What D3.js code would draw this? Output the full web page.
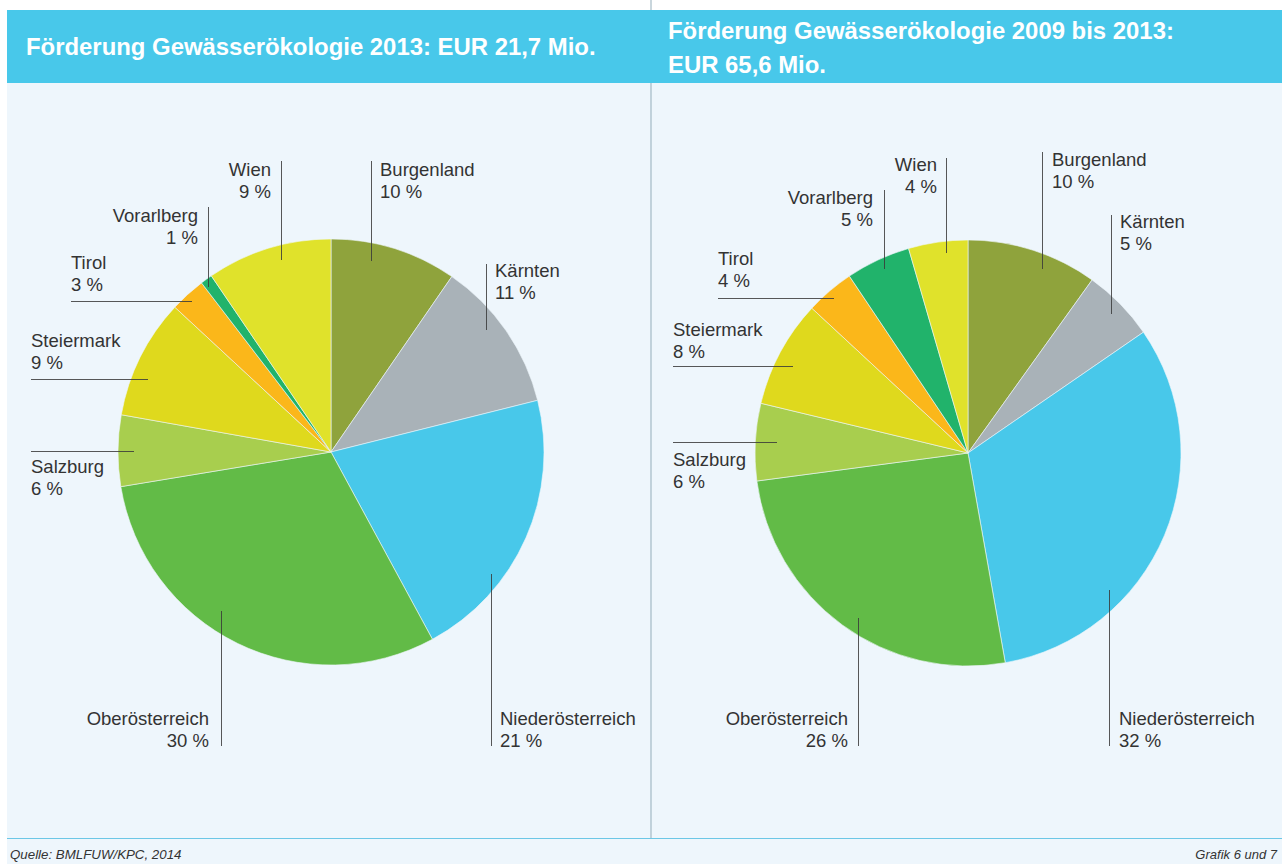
<!DOCTYPE html>
<html><head><meta charset="utf-8">
<script src="https://cdn.jsdelivr.net/npm/d3@7"></script>
<style>
body{margin:0;background:#fff}
svg{display:block}
text{font-family:"Liberation Sans",Arial,Helvetica,sans-serif}
</style>
</head><body>
<svg id="c" width="1282" height="864"></svg>
<script>
// ---- data ----
const categories = ["Burgenland","Kärnten","Niederösterreich","Oberösterreich","Salzburg","Steiermark","Tirol","Vorarlberg","Wien"];
const shares2013 = [9.6, 11.5, 21.0, 30.3, 5.4, 9.1, 2.7, 0.9, 9.5];
const labels2013 = ["10 %","11 %","21 %","30 %","6 %","9 %","3 %","1 %","9 %"];
const shares2009to2013 = [9.9, 5.5, 31.8, 25.7, 5.85, 8.15, 3.7, 4.9, 4.5];
const labels2009to2013 = ["10 %","5 %","32 %","26 %","6 %","8 %","4 %","5 %","4 %"];
const titleLeft = ["Förderung Gewässerökologie 2013: EUR 21,7 Mio."];
const titleRight = ["Förderung Gewässerökologie 2009 bis 2013:", "EUR 65,6 Mio."];
const sourceText = "Quelle: BMLFUW/KPC, 2014";
const noteText = "Grafik 6 und 7";

// ---- styles / layout ----
const sliceColors = ["#8fa33c","#a9b2b8","#48c8ea","#62bb47","#a8ce4e","#dfd91d","#fbb71a","#21b36b","#e0e22b"];
const color = d3.scaleOrdinal(categories, sliceColors);
const R = 213;
const lineH = 21.5;

// label layout: leader line [x1,y1,x2,y2], text x, first baseline y, anchor
const layoutLeft = {
  "Burgenland":      {l:[371,161,371,261], x:380, y:176, a:"start"},
  "Kärnten":         {l:[486,264,486,330], x:495, y:277, a:"start"},
  "Niederösterreich":{l:[491,574,491,746], x:500, y:725, a:"start"},
  "Oberösterreich":  {l:[221,611,221,746], x:209, y:725, a:"end"},
  "Salzburg":        {l:[31,451,134,451],  x:31,  y:473, a:"start"},
  "Steiermark":      {l:[31,379,148,379],  x:31,  y:347, a:"start"},
  "Tirol":           {l:[71,301,192,301],  x:71,  y:269, a:"start"},
  "Vorarlberg":      {l:[208,207,208,287], x:198, y:222, a:"end"},
  "Wien":            {l:[281,161,281,260], x:271, y:176, a:"end"}
};
const layoutRight = {
  "Burgenland":      {l:[1042,152,1042,269], x:1052, y:166, a:"start"},
  "Kärnten":         {l:[1111,215,1111,314], x:1120, y:228, a:"start"},
  "Niederösterreich":{l:[1109,590,1109,746], x:1119, y:725, a:"start"},
  "Oberösterreich":  {l:[858,618,858,746],   x:848,  y:725, a:"end"},
  "Salzburg":        {l:[673,442,777,442],   x:673,  y:466, a:"start"},
  "Steiermark":      {l:[673,366,793,366],   x:673,  y:336, a:"start"},
  "Tirol":           {l:[718,298,834,298],   x:718,  y:265, a:"start"},
  "Vorarlberg":      {l:[884,190,884,269],   x:873,  y:204, a:"end"},
  "Wien":            {l:[946,158,946,253],   x:937,  y:171, a:"end"}
};

const svg = d3.select("#c");

// background panels
svg.append("rect").attr("x",7).attr("y",83).attr("width",1275).attr("height",781).attr("fill","#eef6fc");
svg.append("line").attr("x1",651).attr("x2",651).attr("y1",0).attr("y2",838).attr("stroke","#93adba").attr("stroke-width",1);
svg.append("rect").attr("x",7).attr("y",10).attr("width",1275).attr("height",73).attr("fill","#48c8ea");
svg.append("line").attr("x1",7).attr("x2",1282).attr("y1",838.5).attr("y2",838.5).attr("stroke","#6cc7e6").attr("stroke-width",1);

// titles
function title(lines, x, y0, dy){
  const t = svg.append("text").attr("x",x).attr("y",y0).attr("fill","#fff")
    .attr("font-size",23.9).attr("font-weight","bold");
  lines.forEach((s,i)=>t.append("tspan").attr("x",x).attr("y",y0+i*dy).text(s));
}
title(titleLeft, 26, 55, 34);
title(titleRight, 668, 39, 34);

// footer
svg.append("text").attr("x",10).attr("y",859).attr("font-size",13.3).attr("font-style","italic").attr("fill","#333").text(sourceText);
svg.append("text").attr("x",1277).attr("y",859).attr("text-anchor","end").attr("font-size",13).attr("font-style","italic").attr("fill","#333").text(noteText);

const pie = d3.pie().sort(null).value(d=>d.v);
const arc = d3.arc().innerRadius(0).outerRadius(R);

function drawPie(cx, cy, shares, labels, layout){
  const data = categories.map((c,i)=>({c, v:shares[i], lab:labels[i]}));
  const g = svg.append("g").attr("transform",`translate(${cx},${cy})`);
  g.selectAll("path").data(pie(data)).join("path")
    .attr("d",arc).attr("fill",d=>color(d.data.c))
    .attr("stroke","#eef6fc").attr("stroke-width",0.6);
  const lg = svg.append("g");
  data.forEach(d=>{
    const L = layout[d.c];
    const vx = L.l[0]===L.l[2] ? 0.5 : 0, hy = L.l[1]===L.l[3] ? 0.5 : 0;
    lg.append("line").attr("x1",L.l[0]+vx).attr("y1",L.l[1]+hy)
      .attr("x2",L.l[2]+vx).attr("y2",L.l[3]+hy)
      .attr("stroke","#3a3a3a").attr("stroke-opacity",0.85).attr("stroke-width",1);
    const t = lg.append("text").attr("font-size",18.5).attr("fill","#333").attr("text-anchor",L.a);
    t.append("tspan").attr("x",L.x).attr("y",L.y).text(d.c);
    t.append("tspan").attr("x",L.x).attr("y",L.y+lineH).text(d.lab);
  });
}
drawPie(331, 452, shares2013, labels2013, layoutLeft);
drawPie(968, 453, shares2009to2013, labels2009to2013, layoutRight);
</script>
</body></html>
